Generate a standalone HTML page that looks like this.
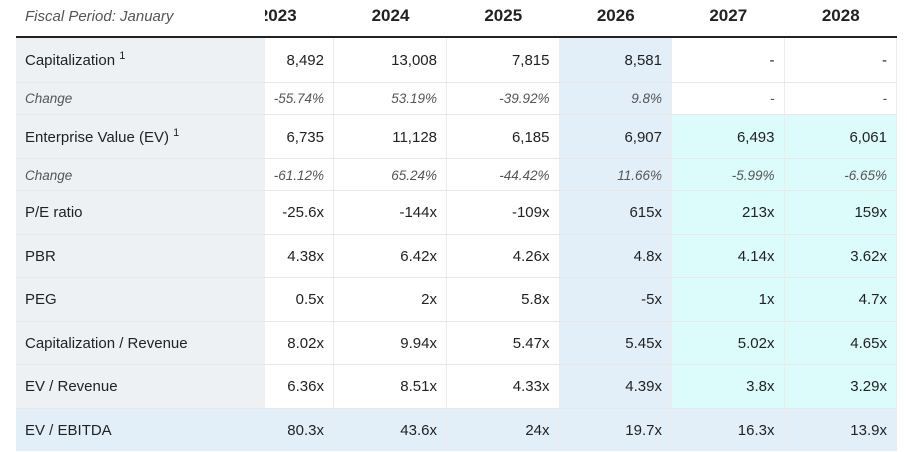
<!DOCTYPE html>
<html><head><meta charset="utf-8">
<style>
body{margin:0;background:#fff;width:907px;height:451px;overflow:hidden;position:relative;font-family:"Liberation Sans",Arial,sans-serif;color:#222}
.h{position:absolute;top:0;height:32px;line-height:32px;font-size:17px;font-weight:bold;text-align:center;color:#222}
.fp{position:absolute;left:0;top:0;width:265px;height:36px;background:#fff;font-style:italic;font-size:15px;color:#555;line-height:33px;padding-left:25px;box-sizing:border-box}
.hl{position:absolute;left:16px;top:36px;width:881px;height:1.6px;background:#222}
.row{position:absolute;left:0;width:907px}
.c{position:absolute;top:0;height:100%;box-sizing:border-box;text-align:right;padding-right:9px;padding-top:1px;font-size:15px;white-space:nowrap;border-right:1px solid #ececec}
.lab{position:absolute;top:0;height:100%;left:16px;width:249px;box-sizing:border-box;padding-left:9px;padding-top:1px;background:#eef1f4;font-size:15px;white-space:nowrap}
.ch .c,.ch .lab{font-style:italic;font-size:13.5px;color:#555}
.c0{left:265px;width:69px}
.c1{left:334px;width:113px}
.c2{left:447px;width:112.5px}
.c3{left:559.5px;width:112.5px;background:#e2eff9}
.c4{left:672px;width:112.5px}
.c5{left:784.5px;width:112.5px}
.fc .c4,.fc .c5{background:#dcfcfc}
.eb .lab,.eb .c{background:#e2eff9}
.ln{position:absolute;left:16px;width:881px;height:1px;background:#e8e8e8}
sup{font-size:11px;position:relative;vertical-align:6px;line-height:0}
</style></head><body>

<div class="h" style="left:221.5px;width:112.5px">2023</div>
<div class="h" style="left:334px;width:113px">2024</div>
<div class="h" style="left:447px;width:112.5px">2025</div>
<div class="h" style="left:559.5px;width:112.5px">2026</div>
<div class="h" style="left:672px;width:112.5px">2027</div>
<div class="h" style="left:784.5px;width:112.5px">2028</div>
<div class="fp">Fiscal Period: January</div>
<div class="hl"></div>

<div class="row" style="top:37.5px;height:44.5px;line-height:44.5px">
<div class="lab">Capitalization <sup>1</sup></div>
<div class="c c0">8,492</div><div class="c c1">13,008</div><div class="c c2">7,815</div><div class="c c3">8,581</div><div class="c c4">-</div><div class="c c5">-</div>
</div>

<div class="row ch" style="top:82px;height:32.5px;line-height:32.5px">
<div class="lab">Change</div>
<div class="c c0">-55.74%</div><div class="c c1">53.19%</div><div class="c c2">-39.92%</div><div class="c c3">9.8%</div><div class="c c4">-</div><div class="c c5">-</div>
</div>

<div class="row fc" style="top:114.5px;height:44px;line-height:44px">
<div class="lab">Enterprise Value (EV) <sup>1</sup></div>
<div class="c c0">6,735</div><div class="c c1">11,128</div><div class="c c2">6,185</div><div class="c c3">6,907</div><div class="c c4">6,493</div><div class="c c5">6,061</div>
</div>

<div class="row ch fc" style="top:158.5px;height:31.5px;line-height:31.5px">
<div class="lab">Change</div>
<div class="c c0">-61.12%</div><div class="c c1">65.24%</div><div class="c c2">-44.42%</div><div class="c c3">11.66%</div><div class="c c4">-5.99%</div><div class="c c5">-6.65%</div>
</div>

<div class="row fc" style="top:190px;height:44px;line-height:44px">
<div class="lab">P/E ratio</div>
<div class="c c0">-25.6x</div><div class="c c1">-144x</div><div class="c c2">-109x</div><div class="c c3">615x</div><div class="c c4">213x</div><div class="c c5">159x</div>
</div>

<div class="row fc" style="top:234px;height:43px;line-height:43px">
<div class="lab">PBR</div>
<div class="c c0">4.38x</div><div class="c c1">6.42x</div><div class="c c2">4.26x</div><div class="c c3">4.8x</div><div class="c c4">4.14x</div><div class="c c5">3.62x</div>
</div>

<div class="row fc" style="top:277px;height:44.5px;line-height:44.5px">
<div class="lab">PEG</div>
<div class="c c0">0.5x</div><div class="c c1">2x</div><div class="c c2">5.8x</div><div class="c c3">-5x</div><div class="c c4">1x</div><div class="c c5">4.7x</div>
</div>

<div class="row fc" style="top:321.5px;height:42.5px;line-height:42.5px">
<div class="lab">Capitalization / Revenue</div>
<div class="c c0">8.02x</div><div class="c c1">9.94x</div><div class="c c2">5.47x</div><div class="c c3">5.45x</div><div class="c c4">5.02x</div><div class="c c5">4.65x</div>
</div>

<div class="row fc" style="top:364px;height:44px;line-height:44px">
<div class="lab">EV / Revenue</div>
<div class="c c0">6.36x</div><div class="c c1">8.51x</div><div class="c c2">4.33x</div><div class="c c3">4.39x</div><div class="c c4">3.8x</div><div class="c c5">3.29x</div>
</div>

<div class="row eb" style="top:408px;height:43px;line-height:43px">
<div class="lab">EV / EBITDA</div>
<div class="c c0">80.3x</div><div class="c c1">43.6x</div><div class="c c2">24x</div><div class="c c3">19.7x</div><div class="c c4">16.3x</div><div class="c c5">13.9x</div>
</div>

<div class="ln" style="top:82px"></div>
<div class="ln" style="top:114px"></div>
<div class="ln" style="top:158px"></div>
<div class="ln" style="top:190px"></div>
<div class="ln" style="top:234px"></div>
<div class="ln" style="top:277px"></div>
<div class="ln" style="top:321px"></div>
<div class="ln" style="top:364px"></div>
<div class="ln" style="top:408px"></div>

</body></html>
